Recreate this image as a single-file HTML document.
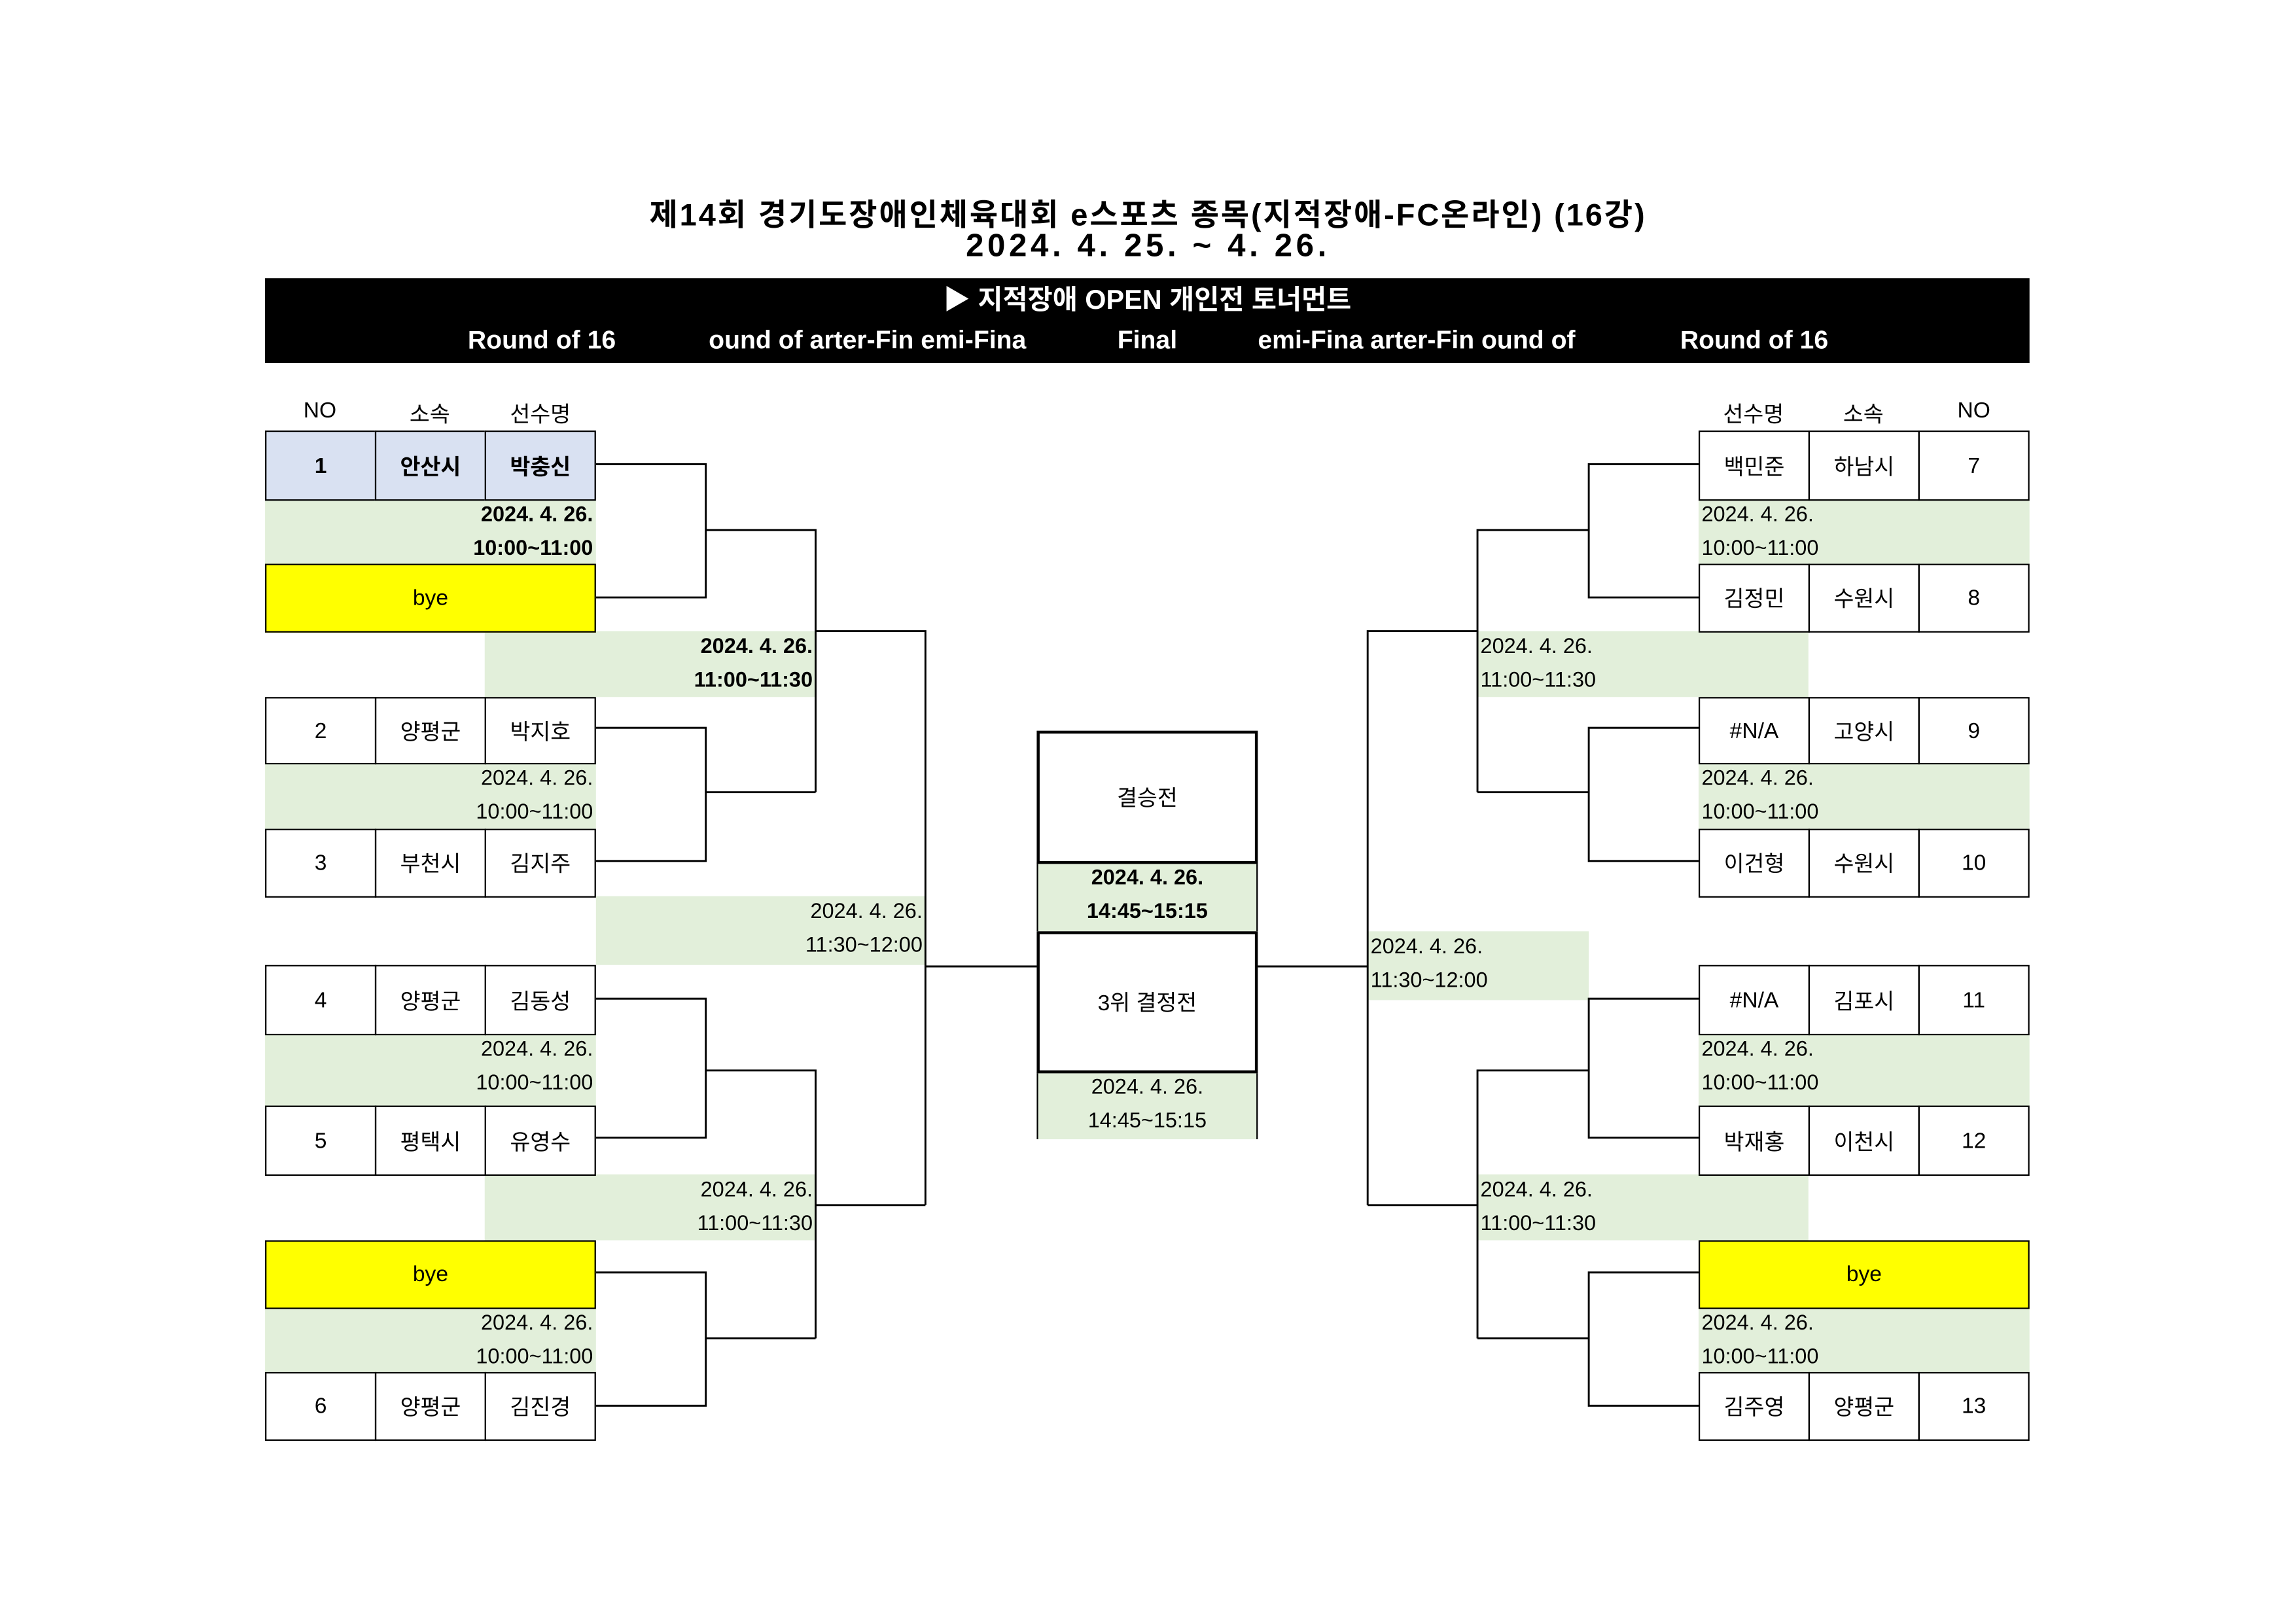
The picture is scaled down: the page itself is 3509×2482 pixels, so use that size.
<!DOCTYPE html>
<html><head><meta charset="utf-8"><style>
html,body{margin:0;padding:0;background:#fff;}
body{width:3509px;height:2480px;overflow:hidden;position:relative;}
#s{position:absolute;left:0;top:0;width:1568px;height:1109px;transform:scale(2.2379);transform-origin:0 0;font-family:"Liberation Sans","Noto Sans CJK KR",sans-serif;color:#000;}
#s div{position:absolute;box-sizing:border-box;}
.c{display:flex;align-items:center;justify-content:center;font-size:15px;}
.bx{border:1.2px solid #000;}
.g{background:#e2efda;font-size:14.5px;line-height:23px;}
.r{text-align:right;padding-right:2px;}
.l{text-align:left;padding-left:2px;}
.y{background:#ffff00;}
.hd{font-size:15px;text-align:center;}
.w{color:#fff;font-weight:bold;font-size:17.5px;}
</style></head><body><div id="s">
<div style="left:0;width:1568px;top:131px;text-align:center;font-weight:bold;font-size:21px;letter-spacing:1.3px;">제14회 경기도장애인체육대회 e스포츠 종목(지적장애-FC온라인) (16강)</div>
<div style="left:0;width:1568px;top:155px;text-align:center;font-weight:bold;font-size:22px;letter-spacing:2.5px;">2024. 4. 25. ~ 4. 26.</div>
<div style="left:181px;top:190px;width:1205px;height:58px;background:#000;"></div>
<div class="w" style="left:181px;width:1205px;top:191px;text-align:center;font-size:18.5px;">▶ 지적장애 OPEN 개인전 토너먼트</div>
<div class="w" style="left:300px;width:140px;top:222px;text-align:center;">Round of 16</div>
<div class="w" style="left:484px;width:224px;top:222px;overflow:hidden;white-space:nowrap;">ound of&nbsp;arter-Fin&nbsp;emi-Fina</div>
<div class="w" style="left:708px;width:151px;top:222px;text-align:center;">Final</div>
<div class="w" style="left:859px;width:226px;top:222px;overflow:hidden;white-space:nowrap;">emi-Fina&nbsp;arter-Fin&nbsp;ound of</div>
<div class="w" style="left:1128px;width:140px;top:222px;text-align:center;">Round of 16</div>

<div class="hd" style="left:181px;width:75px;top:272px;">NO</div>
<div class="hd" style="left:256px;width:75px;top:272px;">소속</div>
<div class="hd" style="left:331px;width:76px;top:272px;">선수명</div>
<div class="hd" style="left:1160px;width:75px;top:272px;">선수명</div>
<div class="hd" style="left:1235px;width:75px;top:272px;">소속</div>
<div class="hd" style="left:1310px;width:76px;top:272px;">NO</div>

<div class="g r" style="left:181px;top:341px;width:226px;height:44px;font-weight:bold;">2024. 4. 26.<br>10:00~11:00</div>
<div class="g r" style="left:331px;top:431px;width:226px;height:45px;font-weight:bold;">2024. 4. 26.<br>11:00~11:30</div>
<div class="g r" style="left:181px;top:521px;width:226px;height:45px;">2024. 4. 26.<br>10:00~11:00</div>
<div class="g r" style="left:407px;top:612px;width:225px;height:47px;">2024. 4. 26.<br>11:30~12:00</div>
<div class="g r" style="left:181px;top:706px;width:226px;height:49px;">2024. 4. 26.<br>10:00~11:00</div>
<div class="g r" style="left:331px;top:802px;width:226px;height:45px;">2024. 4. 26.<br>11:00~11:30</div>
<div class="g r" style="left:181px;top:893px;width:226px;height:44px;">2024. 4. 26.<br>10:00~11:00</div>
<div class="g l" style="left:1160px;top:341px;width:226px;height:44px;">2024. 4. 26.<br>10:00~11:00</div>
<div class="g l" style="left:1009px;top:431px;width:226px;height:45px;">2024. 4. 26.<br>11:00~11:30</div>
<div class="g l" style="left:1160px;top:521px;width:226px;height:45px;">2024. 4. 26.<br>10:00~11:00</div>
<div class="g l" style="left:934px;top:636px;width:151px;height:47px;">2024. 4. 26.<br>11:30~12:00</div>
<div class="g l" style="left:1160px;top:706px;width:226px;height:49px;">2024. 4. 26.<br>10:00~11:00</div>
<div class="g l" style="left:1009px;top:802px;width:226px;height:45px;">2024. 4. 26.<br>11:00~11:30</div>
<div class="g l" style="left:1160px;top:893px;width:226px;height:44px;">2024. 4. 26.<br>10:00~11:00</div>
<div class="g" style="left:708px;top:589px;width:151px;height:47px;text-align:center;font-weight:bold;border-left:1.2px solid #000;border-right:1.2px solid #000;">2024. 4. 26.<br>14:45~15:15</div>
<div class="g" style="left:708px;top:732px;width:151px;height:46px;text-align:center;border-left:1.2px solid #000;border-right:1.2px solid #000;">2024. 4. 26.<br>14:45~15:15</div>
<div class="c" style="left:708px;top:499px;width:151px;height:91px;border:2.5px solid #000;background:#fff;">결승전</div>
<div class="c" style="left:708px;top:636px;width:151px;height:97px;border:2.5px solid #000;background:#fff;">3위 결정전</div>

<svg width="1568" height="1109" style="position:absolute;left:0;top:0" fill="none" stroke="#000" stroke-width="1.3">
<path d="M407 317H482V408H407M482 362H557V541M407 497H482V588H407M482 541H557M557 431H632V823M632 660H708"/>
<path d="M407 682H482V777H407M482 731H557V914M407 869H482V960H407M482 914H557M557 823H632"/>
<path d="M1160 317H1085V408H1160M1085 362H1009V541M1160 497H1085V588H1160M1085 541H1009M1009 431H934V823M934 660H859"/>
<path d="M1160 682H1085V777H1160M1085 731H1009V914M1160 869H1085V960H1160M1085 914H1009M1009 823H934"/>
</svg>

<div class="bx c" style="left:181px;top:294px;width:76px;height:48px;background:#d9e1f2;font-weight:bold;">1</div>
<div class="bx c" style="left:256px;top:294px;width:76px;height:48px;background:#d9e1f2;font-weight:bold;">안산시</div>
<div class="bx c" style="left:331px;top:294px;width:76px;height:48px;background:#d9e1f2;font-weight:bold;">박충신</div>
<div class="bx c y" style="left:181px;top:385px;width:226px;height:47px;">bye</div>
<div class="bx c" style="left:181px;top:476px;width:76px;height:46px;">2</div>
<div class="bx c" style="left:256px;top:476px;width:76px;height:46px;">양평군</div>
<div class="bx c" style="left:331px;top:476px;width:76px;height:46px;">박지호</div>
<div class="bx c" style="left:181px;top:566px;width:76px;height:47px;">3</div>
<div class="bx c" style="left:256px;top:566px;width:76px;height:47px;">부천시</div>
<div class="bx c" style="left:331px;top:566px;width:76px;height:47px;">김지주</div>
<div class="bx c" style="left:181px;top:659px;width:76px;height:48px;">4</div>
<div class="bx c" style="left:256px;top:659px;width:76px;height:48px;">양평군</div>
<div class="bx c" style="left:331px;top:659px;width:76px;height:48px;">김동성</div>
<div class="bx c" style="left:181px;top:755px;width:76px;height:48px;">5</div>
<div class="bx c" style="left:256px;top:755px;width:76px;height:48px;">평택시</div>
<div class="bx c" style="left:331px;top:755px;width:76px;height:48px;">유영수</div>
<div class="bx c y" style="left:181px;top:847px;width:226px;height:47px;">bye</div>
<div class="bx c" style="left:181px;top:937px;width:76px;height:47px;">6</div>
<div class="bx c" style="left:256px;top:937px;width:76px;height:47px;">양평군</div>
<div class="bx c" style="left:331px;top:937px;width:76px;height:47px;">김진경</div>
<div class="bx c" style="left:1160px;top:294px;width:76px;height:48px;">백민준</div>
<div class="bx c" style="left:1235px;top:294px;width:76px;height:48px;">하남시</div>
<div class="bx c" style="left:1310px;top:294px;width:76px;height:48px;">7</div>
<div class="bx c" style="left:1160px;top:385px;width:76px;height:47px;">김정민</div>
<div class="bx c" style="left:1235px;top:385px;width:76px;height:47px;">수원시</div>
<div class="bx c" style="left:1310px;top:385px;width:76px;height:47px;">8</div>
<div class="bx c" style="left:1160px;top:476px;width:76px;height:46px;">#N/A</div>
<div class="bx c" style="left:1235px;top:476px;width:76px;height:46px;">고양시</div>
<div class="bx c" style="left:1310px;top:476px;width:76px;height:46px;">9</div>
<div class="bx c" style="left:1160px;top:566px;width:76px;height:47px;">이건형</div>
<div class="bx c" style="left:1235px;top:566px;width:76px;height:47px;">수원시</div>
<div class="bx c" style="left:1310px;top:566px;width:76px;height:47px;">10</div>
<div class="bx c" style="left:1160px;top:659px;width:76px;height:48px;">#N/A</div>
<div class="bx c" style="left:1235px;top:659px;width:76px;height:48px;">김포시</div>
<div class="bx c" style="left:1310px;top:659px;width:76px;height:48px;">11</div>
<div class="bx c" style="left:1160px;top:755px;width:76px;height:48px;">박재홍</div>
<div class="bx c" style="left:1235px;top:755px;width:76px;height:48px;">이천시</div>
<div class="bx c" style="left:1310px;top:755px;width:76px;height:48px;">12</div>
<div class="bx c y" style="left:1160px;top:847px;width:226px;height:47px;">bye</div>
<div class="bx c" style="left:1160px;top:937px;width:76px;height:47px;">김주영</div>
<div class="bx c" style="left:1235px;top:937px;width:76px;height:47px;">양평군</div>
<div class="bx c" style="left:1310px;top:937px;width:76px;height:47px;">13</div>
</div></body></html>
